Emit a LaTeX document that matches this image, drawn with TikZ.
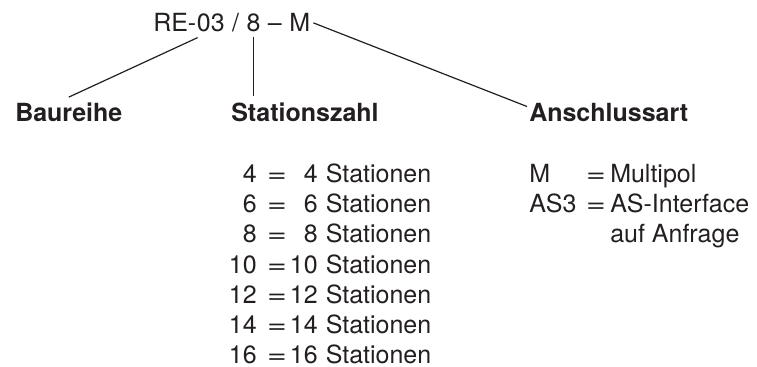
\documentclass[tikz,border=0pt]{standalone}
\usepackage{fontspec}
\setmainfont{TeX Gyre Heros}
\usepackage{graphicx}
\definecolor{ink}{HTML}{231F20}
\begin{document}
\begin{tikzpicture}[x=0.75pt,y=-0.75pt,
    txt/.style={inner sep=0pt, text=ink, font=\fontsize{18.75}{22}\selectfont},
    head/.style={txt, font=\fontsize{18.75}{22}\selectfont\bfseries, anchor=base west},
    link/.style={draw=ink, line width=0.9pt}]
    \useasboundingbox (0,0) rectangle (757,367);

    % Typenschluessel
    \node[txt, anchor=base west] (ser) at (153,32) {RE-};
    \node[txt, anchor=base west] (typ) at (ser.base east) {03};
    \node[txt, anchor=base west] (sep) at (typ.base east) {~/~\null};
    \node[txt, anchor=base west] (num) at (sep.base east) {8};
    \node[txt, anchor=base west] (dash) at (num.base east) {~--~\null};
    \node[txt, anchor=base west] (con) at (dash.base east) {M};

    \node[head] (bau) at (15,122) {Baureihe};
    \node[head] (stz) at (231,122) {Stationszahl};
    \node[head] (ans) at (529,122) {Anschlussart};

    \draw[link] ([shift={(1,5)}]typ.south west) -- ([shift={(0,-6)}]bau.north);
    \draw[link] ([shift={(0,4)}]num.south) -- ([shift={(0,-7)}]num.south |- stz.north);
    \draw[link] ([shift={(3,0)}]con.east) -- ([shift={(-2,3)}]ans.north west);

    % Stationen
    \foreach \n [count=\i from 0] in {4,6,8,10,12,14,16} {
        \node[txt, anchor=base east] (l\i) at (257,183+30*\i) {\n};
        \node[txt, anchor=base] (e\i) at (277,183+30*\i) {\scalebox{1.35}[1]{=}};
        \node[txt, anchor=base east] (r\i) at (318,183+30*\i) {\n};
        \node[txt, anchor=base west] (s\i) at (325.5,183+30*\i) {Stationen};
    }

    % Anschlussart
    \node[txt, anchor=base west] (cm) at (529,183) {M};
    \node[txt, anchor=base] (em) at (596,183) {\scalebox{1.35}[1]{=}};
    \node[txt, anchor=base west] (dm) at (610,183) {Multipol};
    \node[txt, anchor=base west] (ca) at (529,213) {AS3};
    \node[txt, anchor=base] (ea) at (596,213) {\scalebox{1.35}[1]{=}};
    \node[txt, anchor=base west] (da) at (610,213) {AS-Interface};
    \node[txt, anchor=base west] (da2) at (610,243) {auf Anfrage};
\end{tikzpicture}
\end{document}
